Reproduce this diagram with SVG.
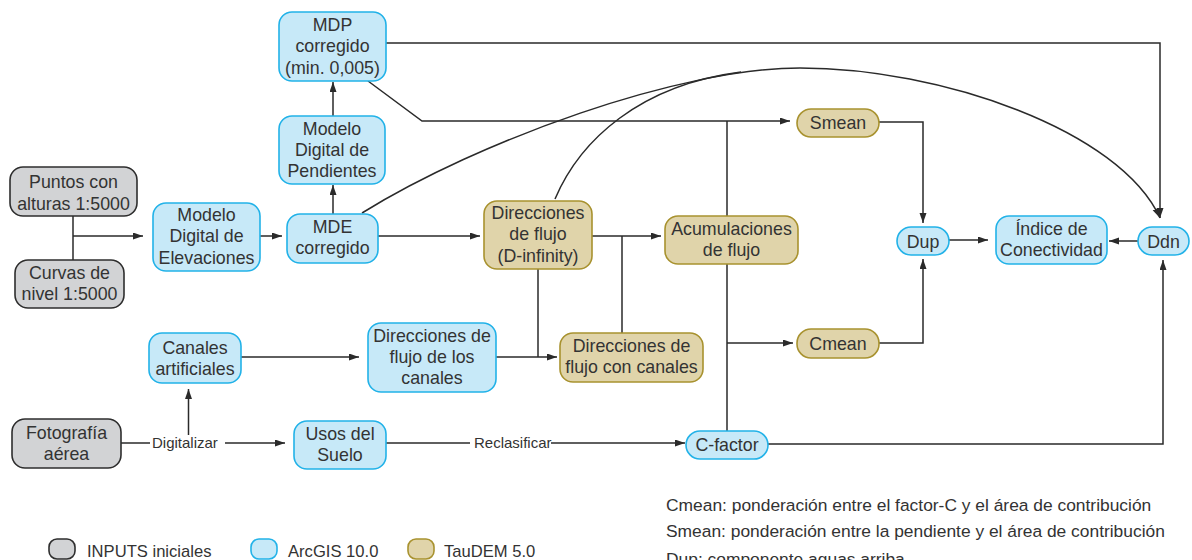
<svg xmlns="http://www.w3.org/2000/svg" width="1192" height="560" viewBox="0 0 1192 560">
<defs>
<marker id="arr" markerWidth="11" markerHeight="8" refX="10" refY="3.5" orient="auto" markerUnits="userSpaceOnUse">
<path d="M0,0 L10,3.5 L0,7 z" fill="#2a2a2a"/>
</marker>
<style>
.gray{fill:#d2d3d5;stroke:#2e2e2e;stroke-width:1.6}
.blue{fill:#c7e9f8;stroke:#22b2e8;stroke-width:1.6}
.tan{fill:#e0d4aa;stroke:#a8922f;stroke-width:1.6}
.t{font-family:"Liberation Sans",Arial,sans-serif;font-size:17.8px;fill:#333;text-anchor:middle}
.lbl{font-family:"Liberation Sans",Arial,sans-serif;font-size:15px;fill:#333}
.leg{font-family:"Liberation Sans",Arial,sans-serif;font-size:16.6px;fill:#333}
.note{font-family:"Liberation Sans",Arial,sans-serif;font-size:17.4px;fill:#333}
.c{fill:none;stroke:#2a2a2a;stroke-width:1.5}
.a{fill:none;stroke:#2a2a2a;stroke-width:1.5;marker-end:url(#arr)}
</style>
</defs>
<rect width="1192" height="560" fill="#fff"/>

<g id="connectors">
<path class="c" d="M73,216 V260"/>
<path class="a" d="M73,236 H143"/>
<path class="a" d="M260,236 H282"/>
<path class="a" d="M333,214 V185"/>
<path class="a" d="M333,116 V82"/>
<path class="a" d="M378,236 H480"/>
<path class="a" d="M376,43 H1160 V218"/>
<path class="a" d="M368,81 L422,121 H790"/>
<path class="a" d="M592,236 H661"/>
<path class="c" d="M622,236 V333"/>
<path class="c" d="M538,269 V357"/>
<path class="a" d="M241,357 H359"/>
<path class="a" d="M496,357 H557"/>
<path class="c" d="M727,121 V216"/>
<path class="c" d="M727,264 V431"/>
<path class="a" d="M727,343 H793"/>
<path class="a" d="M879,122 H923 V223"/>
<path class="a" d="M879,343 H923 V259"/>
<path class="a" d="M949,240 H988"/>
<path class="a" d="M1138,241 H1109"/>
<path class="a" d="M768,444 H1163 V260"/>
<path class="c" d="M121,443 H150"/>
<path class="a" d="M225,443 H285"/>
<path class="a" d="M188.5,435 V389"/>
<path class="c" d="M386,443 H470"/>
<path class="a" d="M551,443 H685"/>
<path class="a" d="M362,213 C480,140 680,68 800,68 C940,68 1120,130 1160,218"/>
<path class="c" d="M555,199 C580,140 640,85 741,72"/>
</g>

<text class="lbl" x="152" y="448">Digitalizar</text>
<text class="lbl" x="474" y="448">Reclasificar</text>

<g id="n-mdp"><rect class="blue" x="279" y="12" width="107" height="69" rx="13"/>
<text class="t" x="332.5" y="30.5">MDP</text><text class="t" x="332.5" y="52">corregido</text><text class="t" x="332.5" y="73.5">(min. 0,005)</text></g>

<g id="n-pend"><rect class="blue" x="279" y="116" width="106" height="68" rx="13"/>
<text class="t" x="332" y="134.5">Modelo</text><text class="t" x="332" y="155.5">Digital de</text><text class="t" x="332" y="176.5">Pendientes</text></g>

<g id="n-puntos"><rect class="gray" x="10" y="167" width="127" height="49" rx="13"/>
<text class="t" x="73.5" y="187.5">Puntos con</text><text class="t" x="73.5" y="209.5">alturas 1:5000</text></g>

<g id="n-curvas"><rect class="gray" x="15" y="260" width="109" height="48" rx="13"/>
<text class="t" x="69.5" y="279">Curvas de</text><text class="t" x="69.5" y="300">nivel 1:5000</text></g>

<g id="n-mde"><rect class="blue" x="153" y="203" width="107" height="68" rx="13"/>
<text class="t" x="206.5" y="220.5">Modelo</text><text class="t" x="206.5" y="242">Digital de</text><text class="t" x="206.5" y="263.5">Elevaciones</text></g>

<g id="n-mdec"><rect class="blue" x="287" y="214" width="91" height="49" rx="13"/>
<text class="t" x="332.5" y="233">MDE</text><text class="t" x="332.5" y="253.5">corregido</text></g>

<g id="n-dinf"><rect class="tan" x="484" y="201" width="108" height="68" rx="13"/>
<text class="t" x="538" y="218.5">Direcciones</text><text class="t" x="538" y="240">de flujo</text><text class="t" x="538" y="261.5">(D-infinity)</text></g>

<g id="n-acum"><rect class="tan" x="665" y="216" width="133" height="48" rx="13"/>
<text class="t" x="731.5" y="234.5">Acumulaciones</text><text class="t" x="731.5" y="255.5">de flujo</text></g>

<g id="n-smean"><rect class="tan" x="797" y="109" width="82" height="28" rx="14"/>
<text class="t" x="838" y="128.5">Smean</text></g>

<g id="n-cmean"><rect class="tan" x="797" y="329" width="82" height="29" rx="14"/>
<text class="t" x="838" y="349.5">Cmean</text></g>

<g id="n-dup"><rect class="blue" x="897" y="227" width="52" height="28" rx="14"/>
<text class="t" x="923" y="247.5">Dup</text></g>

<g id="n-indice"><rect class="blue" x="996" y="216" width="111" height="48" rx="13"/>
<text class="t" x="1051.5" y="234.5">Índice de</text><text class="t" x="1051.5" y="255.5">Conectividad</text></g>

<g id="n-ddn"><rect class="blue" x="1138" y="227" width="51" height="28" rx="14"/>
<text class="t" x="1163.5" y="247.5">Ddn</text></g>

<g id="n-canales"><rect class="blue" x="149" y="333" width="92" height="50" rx="13"/>
<text class="t" x="195" y="353.5">Canales</text><text class="t" x="195" y="374.5">artificiales</text></g>

<g id="n-dircan"><rect class="blue" x="368" y="323" width="128" height="69" rx="13"/>
<text class="t" x="432" y="341.5">Direcciones de</text><text class="t" x="432" y="362.5">flujo de los</text><text class="t" x="432" y="383.5">canales</text></g>

<g id="n-dirconcan"><rect class="tan" x="560" y="333" width="143" height="49" rx="13"/>
<text class="t" x="631.5" y="351.5">Direcciones de</text><text class="t" x="631.5" y="372.5">flujo con canales</text></g>

<g id="n-foto"><rect class="gray" x="12" y="419" width="109" height="49" rx="13"/>
<text class="t" x="66.5" y="438.5">Fotografía</text><text class="t" x="66.5" y="459.5">aérea</text></g>

<g id="n-usos"><rect class="blue" x="294" y="421" width="92" height="48" rx="13"/>
<text class="t" x="340" y="439.5">Usos del</text><text class="t" x="340" y="460.5">Suelo</text></g>

<g id="n-cfactor"><rect class="blue" x="686" y="431" width="82" height="28" rx="14"/>
<text class="t" x="727" y="450.5">C-factor</text></g>

<g id="legend">
<rect class="gray" x="49" y="539" width="26" height="20" rx="8"/>
<text class="leg" x="87" y="557">INPUTS iniciales</text>
<rect class="blue" x="251" y="539" width="26" height="20" rx="8"/>
<text class="leg" x="288" y="557">ArcGIS 10.0</text>
<rect class="tan" x="408" y="539" width="26" height="20" rx="8"/>
<text class="leg" x="444" y="557">TauDEM 5.0</text>
</g>

<g id="notes">
<text class="note" x="666" y="511">Cmean: ponderación entre el factor-C y el área de contribución</text>
<text class="note" x="666" y="537">Smean: ponderación entre la pendiente y el área de contribución</text>
<text class="note" x="666" y="565">Dup: componente aguas arriba</text>
</g>
</svg>
